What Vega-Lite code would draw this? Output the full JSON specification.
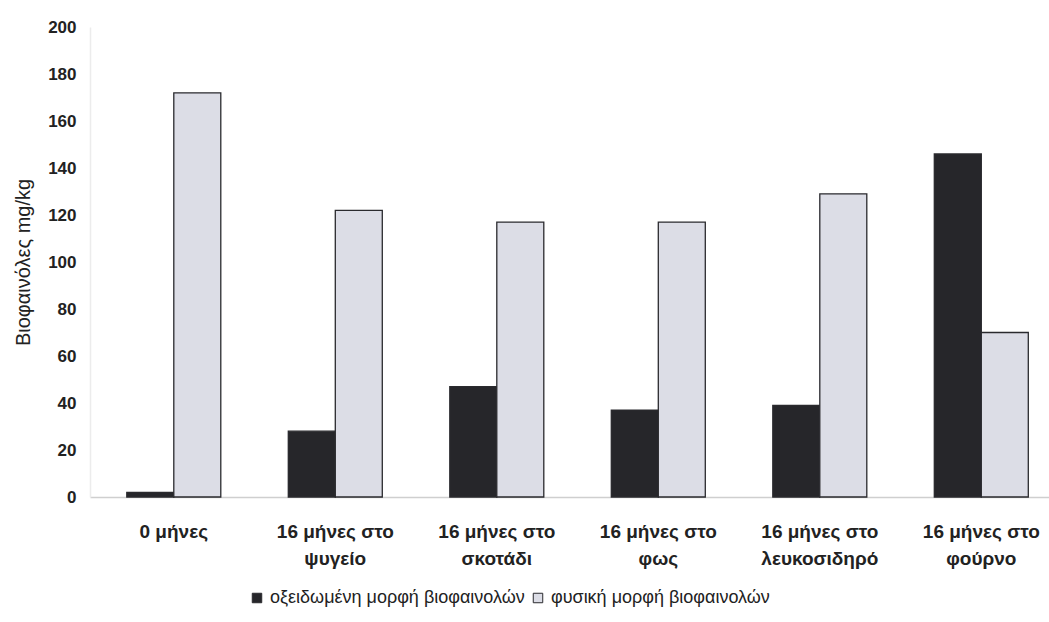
{
  "$schema": "https://vega.github.io/schema/vega-lite/v6.json",
  "autosize": "none",
  "width": 959,
  "height": 470,
  "padding": {"left": 90, "top": 27, "right": 0, "bottom": 125},
  "background": "#ffffff",
  "config": {
    "view": {"stroke": null},
    "font": "Liberation Sans"
  },
  "data": {
    "values": [
      {"cat": "0 μήνες", "series": "οξειδωμένη μορφή βιοφαινολών", "value": 2},
      {"cat": "0 μήνες", "series": "φυσική μορφή βιοφαινολών", "value": 172},
      {"cat": "16 μήνες στο|ψυγείο", "series": "οξειδωμένη μορφή βιοφαινολών", "value": 28},
      {"cat": "16 μήνες στο|ψυγείο", "series": "φυσική μορφή βιοφαινολών", "value": 122},
      {"cat": "16 μήνες στο|σκοτάδι", "series": "οξειδωμένη μορφή βιοφαινολών", "value": 47},
      {"cat": "16 μήνες στο|σκοτάδι", "series": "φυσική μορφή βιοφαινολών", "value": 117},
      {"cat": "16 μήνες στο|φως", "series": "οξειδωμένη μορφή βιοφαινολών", "value": 37},
      {"cat": "16 μήνες στο|φως", "series": "φυσική μορφή βιοφαινολών", "value": 117},
      {"cat": "16 μήνες στο|λευκοσιδηρό", "series": "οξειδωμένη μορφή βιοφαινολών", "value": 39},
      {"cat": "16 μήνες στο|λευκοσιδηρό", "series": "φυσική μορφή βιοφαινολών", "value": 129},
      {"cat": "16 μήνες στο|φούρνο", "series": "οξειδωμένη μορφή βιοφαινολών", "value": 146},
      {"cat": "16 μήνες στο|φούρνο", "series": "φυσική μορφή βιοφαινολών", "value": 70}
    ]
  },
  "mark": {"type": "bar", "stroke": "#2a2a2e", "strokeWidth": 1.3},
  "encoding": {
    "x": {
      "field": "cat",
      "type": "nominal",
      "sort": null,
      "scale": {"paddingInner": 0.418, "paddingOuter": 0.178, "align": 0.64},
      "axis": {
        "title": null,
        "labelAngle": 0,
        "labelExpr": "split(datum.label, '|')",
        "labelFont": "Liberation Sans",
        "labelFontSize": 19,
        "labelFontWeight": "bold",
        "labelColor": "#222222",
        "labelLineHeight": 27,
        "labelPadding": 25,
        "labelBaseline": "top",
        "labelLimit": 0,
        "ticks": false,
        "domainColor": "#cfcfcf",
        "domainWidth": 1.5
      }
    },
    "xOffset": {
      "field": "series",
      "type": "nominal",
      "scale": {"paddingInner": 0, "paddingOuter": 0}
    },
    "y": {
      "field": "value",
      "type": "quantitative",
      "scale": {"domain": [0, 200]},
      "axis": {
        "values": [0, 20, 40, 60, 80, 100, 120, 140, 160, 180, 200],
        "grid": false,
        "ticks": false,
        "domainColor": "#ececec",
        "domainWidth": 1.5,
        "labelFont": "Liberation Sans",
        "labelFontSize": 17,
        "labelFontWeight": "bold",
        "labelColor": "#222222",
        "labelPadding": 14,
        "title": "Βιοφαινόλες mg/kg",
        "titleFont": "Liberation Sans",
        "titleFontSize": 20,
        "titleFontWeight": "normal",
        "titleColor": "#222222",
        "titleAngle": -90,
        "titleX": -67,
        "titleY": 235,
        "titleAlign": "center",
        "titleBaseline": "middle"
      }
    },
    "fill": {
      "field": "series",
      "type": "nominal",
      "scale": {
        "domain": ["οξειδωμένη μορφή βιοφαινολών", "φυσική μορφή βιοφαινολών"],
        "range": ["#26262a", "#dcdde6"]
      },
      "legend": {
        "title": null,
        "orient": "none",
        "direction": "horizontal",
        "legendX": 158,
        "legendY": 562,
        "symbolType": "square",
        "symbolSize": 90,
        "symbolStrokeColor": "#2a2a2e",
        "symbolStrokeWidth": 1,
        "labelFont": "Liberation Sans",
        "labelFontSize": 18,
        "labelColor": "#222222",
        "labelLimit": 0,
        "labelOffset": 4,
        "columnPadding": 4
      }
    }
  }
}
